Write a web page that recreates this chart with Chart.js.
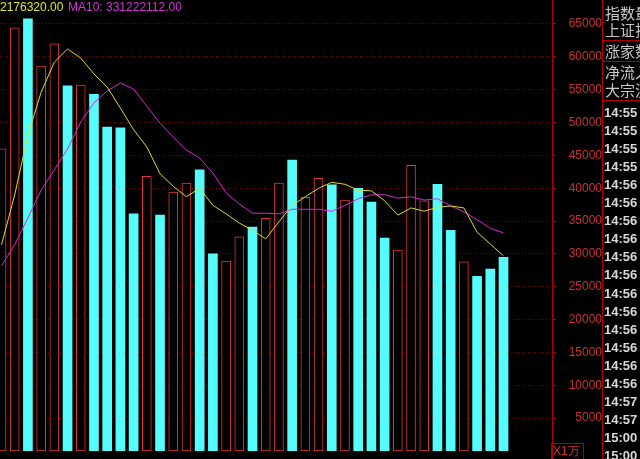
<!DOCTYPE html>
<html><head><meta charset="utf-8">
<script src="https://cdn.jsdelivr.net/npm/chart.js@4.4.0/dist/chart.umd.min.js"></script>
<style>
html,body{margin:0;padding:0;background:#000;overflow:hidden;}
#wrap{position:relative;width:640px;height:459px;overflow:hidden;background:#000;}
canvas{position:absolute;left:0;top:0;}
.t{position:absolute;white-space:nowrap;font-family:"Liberation Sans",Arial,sans-serif;}
</style></head><body>
<div id="wrap"><canvas id="c" width="640" height="459"></canvas><div id="overlay"></div></div>
<script>
// ---- data ----
const volumes = [46.0, 64.4, 65.8, 58.6, 62.0, 55.6, 55.7, 54.3, 49.3, 49.2,
                 36.1, 41.8, 35.9, 39.4, 40.8, 42.8, 30.0, 28.9, 32.6, 34.1,
                 35.4, 40.8, 44.3, 38.6, 41.5, 40.5, 38.2, 40.0, 37.9, 32.4,
                 30.6, 43.5, 38.1, 40.6, 33.6, 28.8, 26.6, 27.7, 29.5].map(v => v * 1000);
const upFlags = [1,1,0,1,1,0,1,0,0,0,
                 0,1,0,1,1,0,0,1,1,0,
                 1,1,0,1,1,0,1,0,0,0,
                 1,1,1,0,0,1,0,0,0];
const ma5 = [31.4, 39.0, 48.1, 54.6, 59.2, 61.2, 59.8, 57.4, 55.4, 52.2,
             48.9, 46.3, 42.2, 40.3, 38.7, 40.0, 37.4, 36.1, 34.7, 33.6,
             32.3, 34.9, 37.4, 38.7, 40.0, 40.9, 40.6, 39.7, 39.6, 38.1,
             35.9, 37.0, 36.5, 37.1, 37.3, 37.0, 33.3, 31.5, 29.7].map(v => v * 1000);
const ma10 = [28.2, 31.4, 35.5, 39.7, 42.8, 46.0, 50.1, 53.0, 54.8, 56.0,
              55.1, 52.5, 49.9, 47.8, 45.8, 44.6, 42.3, 39.3, 37.6, 36.2,
              36.2, 36.1, 36.8, 36.8, 36.8, 36.5, 37.4, 38.4, 39.0, 39.0,
              38.5, 38.7, 38.2, 38.4, 37.3, 36.4, 35.2, 33.9, 33.2].map(v => v * 1000);
const yTicks = [5000,10000,15000,20000,25000,30000,35000,40000,45000,50000,55000,60000,65000];
const headerMA5 = "2176320.00";
const headerMA10 = "MA10: 331222112.00";
const panelLabels = ["指数量", "上证指数", "涨家数", "净流入", "大宗流入"];
const timeLabels = ["14:55","14:55","14:55","14:55","14:56","14:56","14:56","14:56","14:56","14:56",
                    "14:56","14:56","14:56","14:56","14:56","14:56","14:57","14:57","15:00","15:00"];
const unitLabel = "X1万";

// ---- overlay texts ----
const ov = document.getElementById('overlay');
function addText(txt, x, yc, font, color, lh) {
  const d = document.createElement('div');
  d.className = 't';
  d.textContent = txt;
  d.style.left = x + 'px';
  d.style.top = (yc - lh / 2) + 'px';
  d.style.font = font;
  d.style.lineHeight = lh + 'px';
  d.style.color = color;
  ov.appendChild(d);
  return d;
}
addText(headerMA5, 0, 7, '12px "Liberation Sans"', '#e6e632', 14);
addText(headerMA10, 68, 7, '12px "Liberation Sans"', '#d236d2', 14);
const panelY = [12, 29, 50, 71, 89];
panelLabels.forEach((s, i) => addText(s, 605, panelY[i], '15px "Noto Sans CJK SC"', '#c8c8c8', 17));
timeLabels.forEach((s, i) => addText(s, 604, 113 + i * 18.05, 'bold 13px "Liberation Sans"', '#d8d8d8', 16));
addText(unitLabel, 553, 451, '12px "Liberation Sans"', '#d03030', 14);

// ---- panel lines ----
const panelPlugin = {
  id: 'panel',
  afterDraw(chart) {
    const c = chart.ctx;
    c.save();
    c.strokeStyle = '#b00000';
    c.lineWidth = 1;
    c.beginPath();
    c.moveTo(552.5, 0); c.lineTo(552.5, 459);
    c.moveTo(602.5, 0); c.lineTo(602.5, 459);
    [40.5, 61.5, 100.5].forEach(y => { c.moveTo(602, y); c.lineTo(640, y); });
    c.stroke();
    c.strokeRect(551.5, 443.5, 32, 20);
    c.restore();
  }
};

new Chart(document.getElementById('c'), {
  type: 'bar',
  data: {
    datasets: [
      { type: 'line', data: ma5.map((v, i) => ({x: i, y: v})), borderColor: '#dcdc28', borderWidth: 1,
        pointRadius: 0, tension: 0, order: 0 },
      { type: 'line', data: ma10.map((v, i) => ({x: i, y: v})), borderColor: '#d22ad2', borderWidth: 1,
        pointRadius: 0, tension: 0, order: 1 },
      { type: 'bar', data: volumes.map((v, i) => ({x: i, y: v})),
        backgroundColor: upFlags.map(u => u ? '#000000' : '#54fcfc'),
        borderColor: upFlags.map(u => u ? '#e03636' : '#54fcfc'),
        borderWidth: upFlags.map(u => u ? 1 : 0),
        borderSkipped: false, barThickness: 9, order: 2 }
    ]
  },
  options: {
    responsive: false, animation: false, devicePixelRatio: 1,
    layout: { padding: { left: 0, top: 0, right: 38, bottom: 8 } },
    plugins: { legend: { display: false }, tooltip: { enabled: false } },
    scales: {
      x: { type: 'linear', min: -0.114, max: 41.67, offset: false, display: false },
      y: {
        position: 'right', min: 0, max: 68653,
        afterBuildTicks: s => { s.ticks = yTicks.map(v => ({ value: v })); },
        afterFit: s => { s.width = 50; s.paddingTop = 0; s.paddingBottom = 0; },
        ticks: { color: '#c83232', font: { family: 'Liberation Sans', size: 12 }, padding: 6,
                 crossAlign: 'far', callback: v => String(v) },
        grid: { color: '#7a0000', tickColor: '#b00000', tickLength: 4, tickBorderDash: [] },
        border: { display: false, dash: [1, 2] }
      }
    }
  },
  plugins: [panelPlugin]
});
</script>
</body></html>
